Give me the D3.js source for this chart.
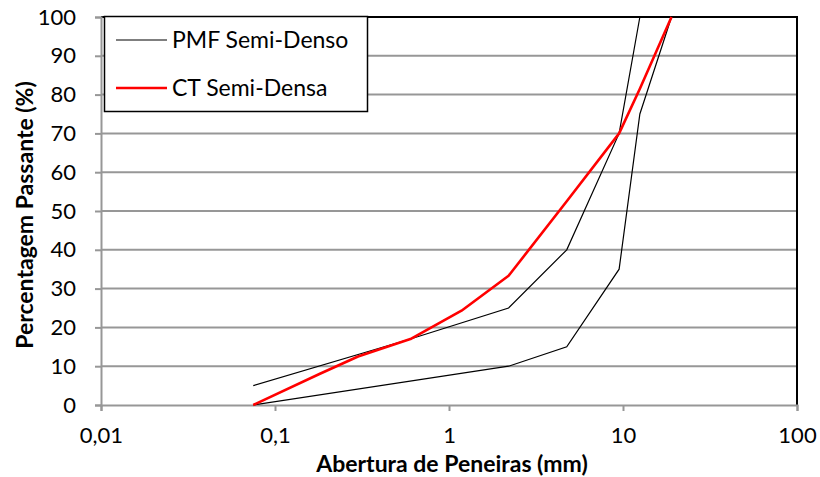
<!DOCTYPE html>
<html>
<head>
<meta charset="utf-8">
<script src="https://cdn.jsdelivr.net/npm/d3@7"></script>
<style>
  html, body { margin: 0; padding: 0; background: #fff; }
  svg { display: block; font-family: Lato, "Open Sans", "Liberation Sans", sans-serif; }
</style>
</head>
<body>
<svg id="chart" width="820" height="477"></svg>
<script>
// Sieve openings (mm) and percent passing
const pmfUpperSize = [0.075, 0.6, 2.2, 4.75, 9.5, 12.5];
const pmfUpperPass = [5, 17, 25, 40, 70, 100];
const pmfLowerSize = [0.075, 2.2, 4.75, 9.5, 12.5, 19];
const pmfLowerPass = [0, 10, 15, 35, 75, 100];
const ctSize = [0.075, 0.18, 0.3, 0.6, 1.18, 2.2, 4.75, 9.5, 12.5, 19];
const ctPass = [0, 8, 12.5, 17, 24.3, 33.3, 52.5, 70, 81.5, 100];

const xTicks = [0.01, 0.1, 1, 10, 100];
const xTickLabels = ["0,01", "0,1", "1", "10", "100"];
const yTicks = [0, 10, 20, 30, 40, 50, 60, 70, 80, 90, 100];

const seriesNames = ["PMF Semi-Denso", "CT Semi-Densa"];

const svg = d3.select("#chart");
const m = { left: 101, right: 797, top: 17, bottom: 405 };

const x = d3.scaleLog().domain([0.01, 100]).range([m.left, m.right]);
const y = d3.scaleLinear().domain([0, 100]).range([m.bottom, m.top]);

const grid = "#979797";
const font = "Lato, 'Open Sans', sans-serif";

// horizontal gridlines
svg.append("g").selectAll("line").data(yTicks.filter(d => d > 0 && d < 100)).join("line")
  .attr("x1", m.left).attr("x2", m.right)
  .attr("y1", d => y(d)).attr("y2", d => y(d))
  .attr("stroke", grid).attr("stroke-width", 2);

// plot frame: black top and right edges
svg.append("line").attr("x1", m.left).attr("x2", m.right + 1).attr("y1", m.top).attr("y2", m.top)
  .attr("stroke", "#000").attr("stroke-width", 2);
svg.append("line").attr("x1", m.right).attr("x2", m.right).attr("y1", m.top).attr("y2", m.bottom)
  .attr("stroke", "#000").attr("stroke-width", 2);

// y axis
const yAxis = d3.axisLeft(y).tickValues(yTicks).tickSize(6).tickPadding(19).tickFormat(d3.format("d"));
const gy = svg.append("g").attr("transform", `translate(${m.left},0)`).call(yAxis);
gy.select(".domain").attr("stroke", grid).attr("stroke-width", 2);
gy.selectAll(".tick line").attr("stroke", grid).attr("stroke-width", 2);
gy.selectAll(".tick text").attr("font-size", 22).attr("fill", "#000").attr("font-family", font);

// x axis
const xAxis = d3.axisBottom(x).tickValues(xTicks).tickSize(6).tickPadding(16)
  .tickFormat((d, i) => xTickLabels[i]);
const gx = svg.append("g").attr("transform", `translate(0,${m.bottom})`).call(xAxis);
gx.select(".domain").attr("stroke", grid).attr("stroke-width", 2);
gx.selectAll(".tick line").attr("stroke", grid).attr("stroke-width", 2);
gx.selectAll(".tick text").attr("font-size", 22).attr("fill", "#000").attr("font-family", font);

// curves
const line = d3.line().x(d => x(d[0])).y(d => y(d[1]));
const zip = (a, b) => a.map((v, i) => [v, b[i]]);

svg.append("path").datum(zip(pmfUpperSize, pmfUpperPass)).attr("d", line)
  .attr("fill", "none").attr("stroke", "#000").attr("stroke-width", 1.2);
svg.append("path").datum(zip(pmfLowerSize, pmfLowerPass)).attr("d", line)
  .attr("fill", "none").attr("stroke", "#000").attr("stroke-width", 1.2);
svg.append("path").datum(zip(ctSize, ctPass)).attr("d", line)
  .attr("fill", "none").attr("stroke", "#ff0000").attr("stroke-width", 2.6)
  .attr("stroke-linejoin", "round");

// legend
const lg = svg.append("g");
lg.append("rect").attr("x", 104.5).attr("y", 16.5).attr("width", 263).attr("height", 95)
  .attr("fill", "#fff").attr("stroke", "#000").attr("stroke-width", 1.5);
const legendStyles = [{ c: "#000", w: 1.2 }, { c: "#ff0000", w: 2.6 }];
seriesNames.forEach((name, i) => {
  const ly = 40 + i * 48;
  lg.append("line").attr("x1", 116).attr("x2", 167).attr("y1", ly).attr("y2", ly)
    .attr("stroke", legendStyles[i].c).attr("stroke-width", legendStyles[i].w);
  lg.append("text").attr("x", 172).attr("y", ly).attr("dy", "0.36em")
    .attr("font-size", 23).attr("fill", "#000").text(name);
});

// axis titles
svg.append("text").attr("x", 452).attr("y", 472).attr("text-anchor", "middle")
  .attr("font-size", 23).attr("font-weight", "bold").text("Abertura de Peneiras (mm)");
svg.append("text").attr("transform", "translate(33,215) rotate(-90)").attr("text-anchor", "middle")
  .attr("font-size", 23).attr("font-weight", "bold").text("Percentagem Passante (%)");
</script>
</body>
</html>
